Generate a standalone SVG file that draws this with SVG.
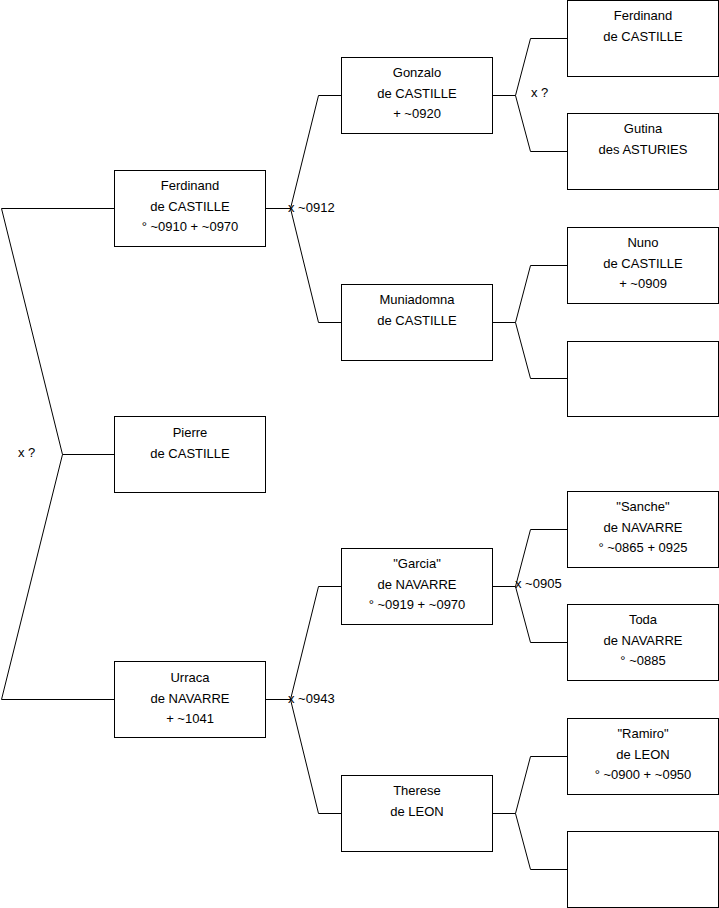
<svg xmlns="http://www.w3.org/2000/svg" width="719" height="908" viewBox="0 0 719 908">
<style>
.box{fill:#fff;stroke:#000;stroke-width:1}
.ln{fill:none;stroke:#000;stroke-width:1}
text{font-family:"Liberation Sans",Arial,sans-serif;font-size:13px;fill:#000}
.c{text-anchor:middle}
</style>
<rect width="719" height="908" fill="#fff"/>
<g id="connectors">
<path class="ln" d="M114.5,208.5 H1.5 L62.5,454.5 H114.5 M62.5,454.5 L1.5,699.5 H114.5"/>
<path class="ln" d="M265.5,208.5 H290.5 L318.5,95.5 H341.5 M290.5,208.5 L318.5,322.5 H341.5"/>
<path class="ln" d="M265.5,699.5 H290.5 L318.5,586.5 H341.5 M290.5,699.5 L318.5,813.5 H341.5"/>
<path class="ln" d="M492.5,95.5 H515.5 L530.5,38.5 H567.5 M515.5,95.5 L530.5,151.5 H567.5"/>
<path class="ln" d="M492.5,322.5 H515.5 L530.5,265.5 H567.5 M515.5,322.5 L530.5,378.5 H567.5"/>
<path class="ln" d="M492.5,586.5 H515.5 L530.5,529.5 H567.5 M515.5,586.5 L530.5,642.5 H567.5"/>
<path class="ln" d="M492.5,813.5 H515.5 L530.5,756.5 H567.5 M515.5,813.5 L530.5,869.5 H567.5"/>
<text x="18" y="457">x ?</text>
<text x="288" y="212">x ~0912</text>
<text x="288" y="703">x ~0943</text>
<text x="531" y="97">x ?</text>
<text x="515" y="588">x ~0905</text>
</g>
<g id="n-ferdinand1">
<rect class="box" x="114.5" y="170.5" width="151" height="76"/>
<text class="c" x="190" y="190">Ferdinand</text>
<text class="c" x="190" y="210.5">de CASTILLE</text>
<text class="c" x="190" y="231">° ~0910 + ~0970</text>
</g>
<g id="n-pierre">
<rect class="box" x="114.5" y="416.5" width="151" height="76"/>
<text class="c" x="190" y="437">Pierre</text>
<text class="c" x="190" y="457.5">de CASTILLE</text>
</g>
<g id="n-urraca">
<rect class="box" x="114.5" y="661.5" width="151" height="76"/>
<text class="c" x="190" y="682">Urraca</text>
<text class="c" x="190" y="702.5">de NAVARRE</text>
<text class="c" x="190" y="723">+ ~1041</text>
</g>
<g id="n-gonzalo">
<rect class="box" x="341.5" y="57.5" width="151" height="76"/>
<text class="c" x="417" y="77">Gonzalo</text>
<text class="c" x="417" y="97.5">de CASTILLE</text>
<text class="c" x="417" y="118">+ ~0920</text>
</g>
<g id="n-muniadomna">
<rect class="box" x="341.5" y="284.5" width="151" height="76"/>
<text class="c" x="417" y="304">Muniadomna</text>
<text class="c" x="417" y="324.5">de CASTILLE</text>
</g>
<g id="n-garcia">
<rect class="box" x="341.5" y="548.5" width="151" height="76"/>
<text class="c" x="417" y="568">"Garcia"</text>
<text class="c" x="417" y="588.5">de NAVARRE</text>
<text class="c" x="417" y="609">° ~0919 + ~0970</text>
</g>
<g id="n-therese">
<rect class="box" x="341.5" y="775.5" width="151" height="76"/>
<text class="c" x="417" y="795">Therese</text>
<text class="c" x="417" y="815.5">de LEON</text>
</g>
<g id="n-ferdinand3">
<rect class="box" x="567.5" y="0.5" width="151" height="76"/>
<text class="c" x="643" y="20">Ferdinand</text>
<text class="c" x="643" y="40.5">de CASTILLE</text>
</g>
<g id="n-gutina">
<rect class="box" x="567.5" y="113.5" width="151" height="76"/>
<text class="c" x="643" y="133">Gutina</text>
<text class="c" x="643" y="153.5">des ASTURIES</text>
</g>
<g id="n-nuno">
<rect class="box" x="567.5" y="227.5" width="151" height="76"/>
<text class="c" x="643" y="247">Nuno</text>
<text class="c" x="643" y="267.5">de CASTILLE</text>
<text class="c" x="643" y="288">+ ~0909</text>
</g>
<g id="n-empty1">
<rect class="box" x="567.5" y="341.5" width="151" height="75"/>
</g>
<g id="n-sanche">
<rect class="box" x="567.5" y="491.5" width="151" height="76"/>
<text class="c" x="643" y="511">"Sanche"</text>
<text class="c" x="643" y="531.5">de NAVARRE</text>
<text class="c" x="643" y="552">° ~0865 + 0925</text>
</g>
<g id="n-toda">
<rect class="box" x="567.5" y="604.5" width="151" height="76"/>
<text class="c" x="643" y="624">Toda</text>
<text class="c" x="643" y="644.5">de NAVARRE</text>
<text class="c" x="643" y="665">° ~0885</text>
</g>
<g id="n-ramiro">
<rect class="box" x="567.5" y="718.5" width="151" height="76"/>
<text class="c" x="643" y="738">"Ramiro"</text>
<text class="c" x="643" y="758.5">de LEON</text>
<text class="c" x="643" y="779">° ~0900 + ~0950</text>
</g>
<g id="n-empty2">
<rect class="box" x="567.5" y="831.5" width="151" height="76"/>
</g>
</svg>
